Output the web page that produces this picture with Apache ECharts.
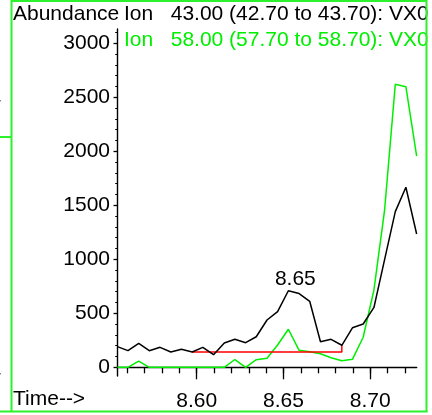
<!DOCTYPE html>
<html><head><meta charset="utf-8">
<script src="https://cdn.jsdelivr.net/npm/echarts@6/dist/echarts.min.js"></script>
<style>html,body{margin:0;padding:0;background:#fff}#c{width:432px;height:415px}</style>
</head><body><div id="c"></div>
<script>
// ---- data ----
const times = [8.5543, 8.5604, 8.5666, 8.5727, 8.5789, 8.5851, 8.5912, 8.5974, 8.6035, 8.6097,
  8.6159, 8.6220, 8.6282, 8.6343, 8.6405, 8.6466, 8.6528, 8.6590, 8.6651, 8.6713,
  8.6774, 8.6836, 8.6897, 8.6959, 8.7021, 8.7082, 8.7144, 8.7205, 8.7267];
const ion43 = [191, 154, 222, 154, 185, 142, 167, 142, 185, 117,
  225, 259, 228, 283, 438, 515, 709, 683, 611, 237,
  259, 204, 366, 401, 554, 995, 1441, 1667, 1234];
const ion58 = [0, 0, 58, 0, 0, 0, 0, 0, 0, 0,
  0, 72, 0, 70, 83, 206, 352, 157, 144, 126,
  88, 61, 74, 278, 716, 1450, 2620, 2598, 1956];
const baselineTimes = [8.5974, 8.6836, 8.6836];
const baselineValues = [142, 142, 204];
const xMajorTicks = [8.60, 8.65, 8.70];
const xMinorTicks = [8.56, 8.57, 8.58, 8.59, 8.60, 8.61, 8.62, 8.63, 8.64, 8.65, 8.66, 8.67, 8.68, 8.69, 8.70, 8.71, 8.72];
const yMajorTicks = [0, 500, 1000, 1500, 2000, 2500, 3000];
const yMinorTicks = [0, 100, 200, 300, 400, 500, 600, 700, 800, 900, 1000, 1100, 1200, 1300, 1400, 1500,
  1600, 1700, 1800, 1900, 2000, 2100, 2200, 2300, 2400, 2500, 2600, 2700, 2800, 2900, 3000, 3100];
const peakIndex = 16;
const peakLabel = '8.65';
const yTitle = 'Abundance';
const xTitle = 'Time-->';
const header43 = 'Ion   43.00 (42.70 to 43.70): VX0';
const header58 = 'Ion   58.00 (57.70 to 58.70): VX0';

// ---- chart ----
const FONT = "'Liberation Sans', Arial, Helvetica, sans-serif";
const GREEN = '#00ee00';
const FRAME = '#2cf22c';
const xMin = 8.55409, xMax = 8.72673;
const yMin = -80.6, yMax = 3132.4;
const pairs = (xs, ys) => xs.map((x, i) => [x, ys[i]]);

const chart = echarts.init(document.getElementById('c'), null, {renderer: 'canvas'});
const axisTxt = {color: '#000', fontSize: 21, fontFamily: FONT};
chart.setOption({
  animation: false,
  grid: {left: 117, top: 29, width: 299.7, height: 347, containLabel: false},
  xAxis: [
    {type: 'value', min: xMin, max: xMax, position: 'bottom',
     axisLine: {lineStyle: {color: '#000', width: 1.4}},
     axisTick: {customValues: xMajorTicks, length: 12, lineStyle: {color: '#000', width: 1.3}},
     axisLabel: Object.assign({customValues: xMajorTicks, margin: 15, formatter: v => v.toFixed(2)}, axisTxt),
     splitLine: {show: false}},
    {type: 'value', min: xMin, max: xMax, position: 'bottom',
     axisLine: {show: false},
     axisTick: {customValues: xMinorTicks, length: 6, lineStyle: {color: '#000', width: 1.3}},
     axisLabel: {show: false}, splitLine: {show: false}}
  ],
  yAxis: [
    {type: 'value', min: yMin, max: yMax, position: 'left',
     axisLine: {show: true, lineStyle: {color: '#000', width: 1.4}},
     axisTick: {show: true, customValues: yMajorTicks, length: 3.5, lineStyle: {color: '#000', width: 1.3}},
     axisLabel: Object.assign({customValues: yMajorTicks, margin: 7, formatter: v => String(Math.round(v))}, axisTxt),
     splitLine: {show: false}},
    {type: 'value', min: yMin, max: yMax, position: 'left',
     axisLine: {show: false},
     axisTick: {show: true, customValues: yMinorTicks, length: 1.8, lineStyle: {color: '#000', width: 1.2}},
     axisLabel: {show: false}, splitLine: {show: false}}
  ],
  series: [
    {type: 'line', name: 'ion58', data: pairs(times, ion58), showSymbol: false,
     lineStyle: {color: GREEN, width: 1.5}, z: 2},
    {type: 'line', name: 'baseline', data: pairs(baselineTimes, baselineValues), showSymbol: false,
     lineStyle: {color: '#ff0000', width: 1.5}, z: 3},
    {type: 'line', name: 'ion43', data: pairs(times, ion43), showSymbol: false,
     lineStyle: {color: '#000', width: 1.5}, z: 4,
     markPoint: {symbol: 'circle', symbolSize: 1, itemStyle: {color: 'rgba(0,0,0,0)'},
       label: {show: true, position: 'top', distance: 5, offset: [7, 4], formatter: peakLabel,
               color: '#000', fontSize: 21, fontFamily: FONT},
       data: [{coord: [times[peakIndex], ion43[peakIndex]]}]}}
  ],
  graphic: [
    {type: 'text', left: 13, top: 4, style: {text: yTitle, fill: '#000', font: '21px ' + FONT}},
    {type: 'text', x: 124, y: 4, style: {text: header43, fill: '#000', font: '21px ' + FONT}},
    {type: 'text', x: 124, y: 30, style: {text: header58, fill: GREEN, font: '21px ' + FONT}},
    {type: 'text', left: 13, top: 389, style: {text: xTitle, fill: '#000', font: '21px ' + FONT}},
    {type: 'rect', shape: {x: 427.5, y: 0, width: 5, height: 415}, style: {fill: '#fff'}, z: 90},
    {type: 'line', shape: {x1: 11, y1: 1, x2: 427, y2: 1}, style: {stroke: FRAME, lineWidth: 2}, z: 100},
    {type: 'line', shape: {x1: 11.5, y1: 0, x2: 11.5, y2: 412}, style: {stroke: FRAME, lineWidth: 2}, z: 100},
    {type: 'line', shape: {x1: 426.5, y1: 0, x2: 426.5, y2: 412}, style: {stroke: FRAME, lineWidth: 2}, z: 100},
    {type: 'line', shape: {x1: 0, y1: 411.5, x2: 427.5, y2: 411.5}, style: {stroke: FRAME, lineWidth: 2}, z: 100},
    {type: 'line', shape: {x1: 0, y1: 137, x2: 11, y2: 137}, style: {stroke: FRAME, lineWidth: 2}, z: 100},
    {type: 'rect', shape: {x: 0, y: 100, width: 1, height: 1.5}, style: {fill: '#888'}, z: 100},
    {type: 'rect', shape: {x: 0, y: 373, width: 1, height: 1.5}, style: {fill: '#888'}, z: 100}
  ]
});
</script>
</body></html>
